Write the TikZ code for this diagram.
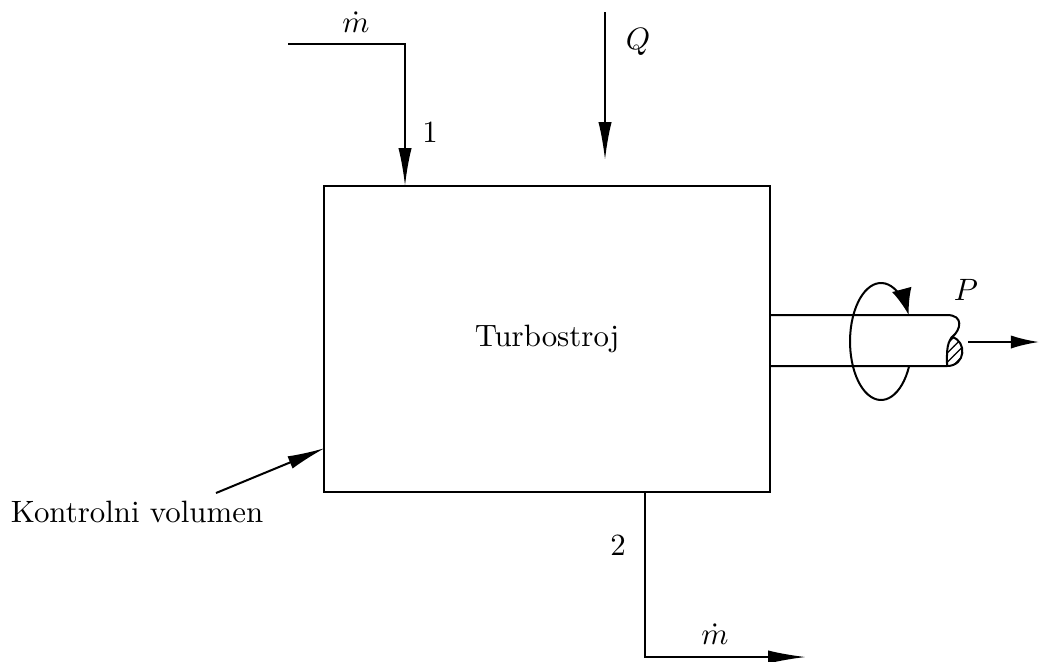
\documentclass[tikz,border=0pt]{standalone}
\usepackage{amsmath}
\usepackage{tikz}
\usetikzlibrary{arrows.meta, patterns, calc}

\begin{document}
\begin{tikzpicture}[x=0.01138cm, y=-0.01138cm, line width=0.65pt,
    arr/.style={-{Latex[length=4.3mm,width=1.5mm]}},
    every node/.style={inner sep=0pt}]
    \useasboundingbox (0,0) rectangle (1040,661);
    % control volume
    \node[draw, minimum width=5.075cm, minimum height=3.482cm] (cv) at (547,339) {Turbostroj};
    % inlet 1
    \coordinate (in0) at (288,44);
    \coordinate (in1) at (405,186);
    \draw[arr] (in0) -| (in1);
    \node (min) at (356,22) {$\dot m$};
    \node (one) at (430,132) {1};
    % heat
    \coordinate (q0) at (605,12);
    \coordinate (q1) at (605,160);
    \draw[arr] (q0) -- (q1);
    \node (Q) at (638,42) {$Q$};
    % outlet 2
    \coordinate (out0) at (645,492);
    \coordinate (out1) at (806,657);
    \draw[arr] (out0) |- (out1);
    \node (two) at (618,545) {2};
    \node (mout) at (715,634) {$\dot m$};
    % label of the control volume
    \node (kv) at (137,512) {Kontrolni volumen};
    \coordinate (kv0) at (216,493);
    \coordinate (kv1) at (325,448);
    \draw[arr] (kv0) -- (kv1);
    % shaft
    \draw (770,315) -- (947,315) .. controls (964,315) and (961,330) .. (952,337)
        .. controls (967,341) and (966,366) .. (947,366) -- (770,366);
    \fill[pattern=north east lines] (952,337) .. controls (967,341) and (966,366) .. (947,366)
        .. controls (947,355) and (946,344) .. (952,337);
    \draw (952,337) .. controls (946,344) and (947,355) .. (947,366);
    % rotation
    \draw[-{Latex[length=3mm,width=2.3mm]}] (909.1,366.2) arc[start angle=25, end angle=333, x radius=31, y radius=58.5];
    \node (P) at (966,290) {$P$};
    \coordinate (p0) at (968,342);
    \coordinate (p1) at (1039,342);
    \draw[-{Latex[length=3.2mm,width=1.5mm]}] (p0) -- (p1);
\end{tikzpicture}
\end{document}
